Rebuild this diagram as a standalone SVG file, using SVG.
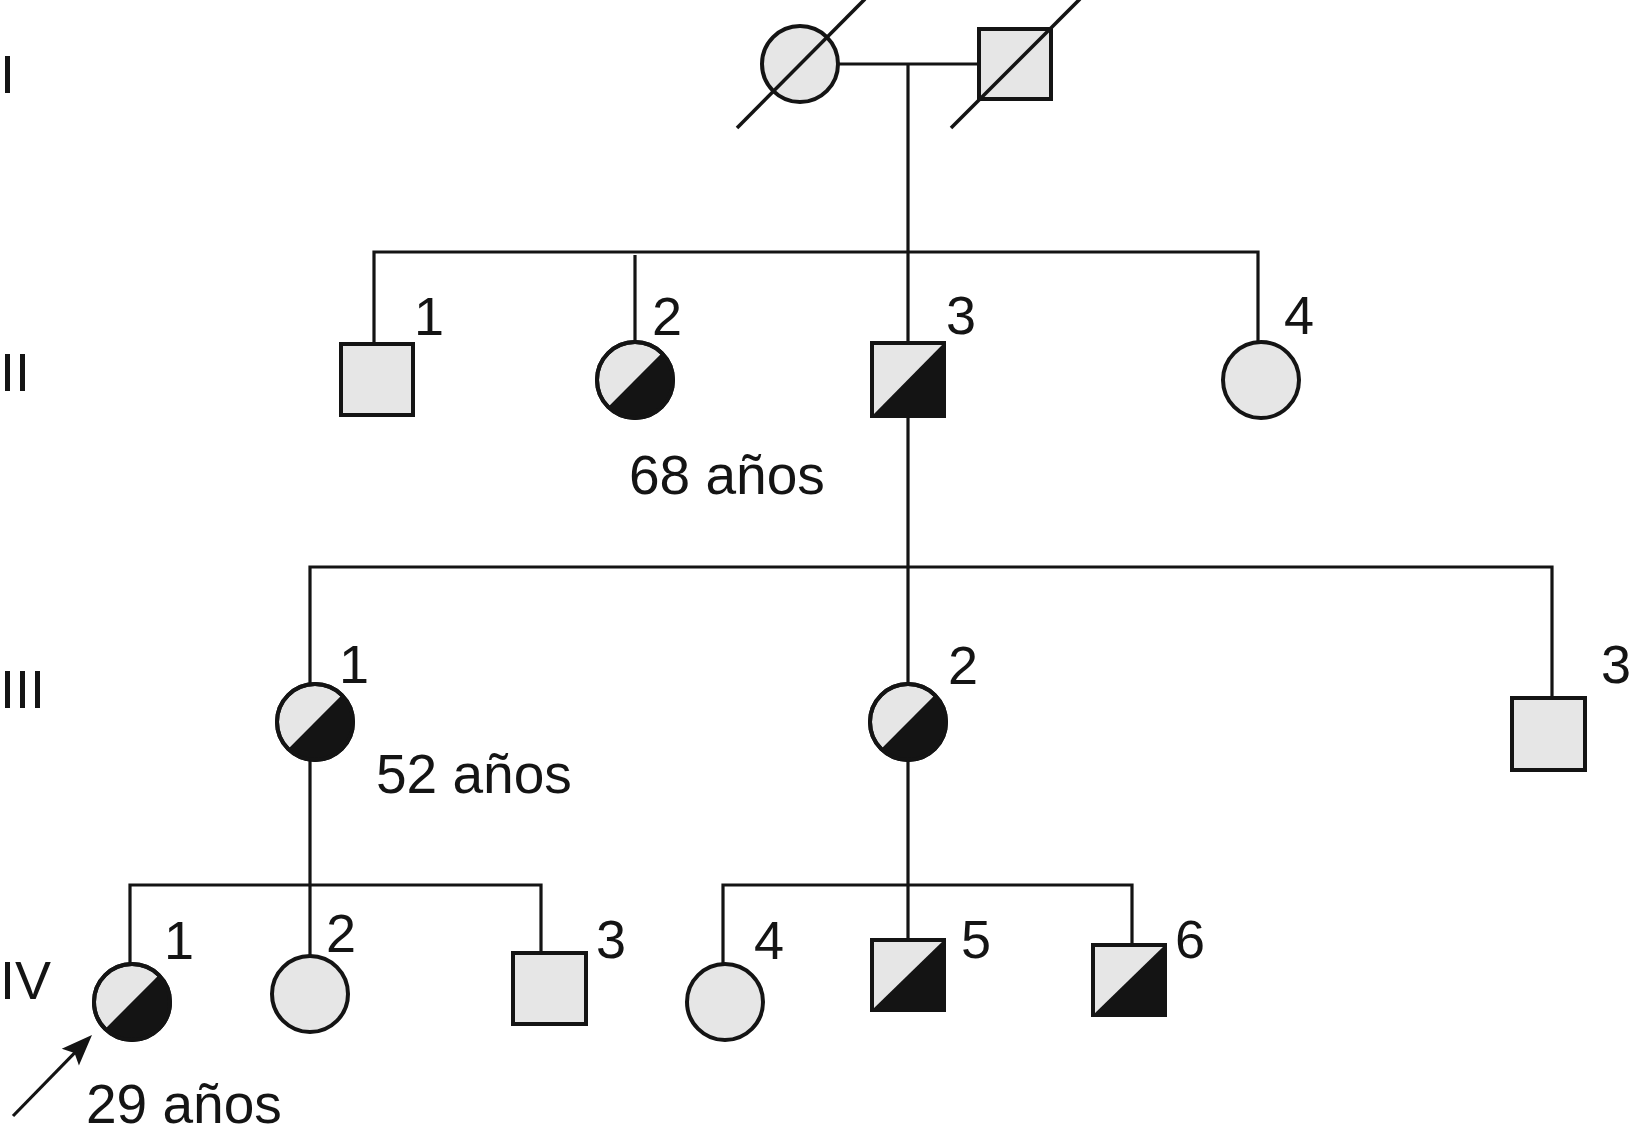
<svg xmlns="http://www.w3.org/2000/svg" width="1632" height="1142" viewBox="0 0 1632 1142">
<style>
  .bg{fill:#ffffff}
  .ln{fill:none;stroke:#141414;stroke-width:3.2;stroke-linejoin:miter;stroke-linecap:butt}
  .sh{fill:#e6e6e6;stroke:#141414;stroke-width:4}
  .blk{fill:#141414;stroke:none}
  .out{fill:none;stroke:#141414;stroke-width:4}
  .sl{stroke:#141414;stroke-width:3.6;fill:none}
  .t{font-family:"Liberation Sans",Arial,sans-serif;font-size:54px;fill:#141414}
  .age{font-size:55px}
</style>
<defs>
  <marker id="arr" markerUnits="userSpaceOnUse" viewBox="-27 -13 34 26" refX="0" refY="0" markerWidth="34" markerHeight="26" orient="auto">
    <path d="M6,0 L-25,-12 L-19,0 L-25,12 Z" fill="#141414"/>
  </marker>
</defs>
<rect class="bg" x="0" y="0" width="1632" height="1142"/>

<g id="generation-labels">
  <text class="t" x="0" y="93">I</text>
  <text class="t" x="0" y="391">II</text>
  <text class="t" x="0" y="708">III</text>
  <text class="t" x="0" y="999">IV</text>
</g>

<g id="connectors">
  <line class="ln" x1="838" y1="64" x2="979" y2="64"/>
  <line class="ln" x1="908" y1="64" x2="908" y2="343"/>
  <polyline class="ln" points="374,344 374,252 1258,252 1258,342"/>
  <line class="ln" x1="635" y1="255" x2="635" y2="342"/>
  <line class="ln" x1="908" y1="416" x2="908" y2="684"/>
  <polyline class="ln" points="310,684 310,567 1552,567 1552,698"/>
  <line class="ln" x1="310" y1="761" x2="310" y2="956"/>
  <polyline class="ln" points="130,964 130,885 541,885 541,953"/>
  <line class="ln" x1="908" y1="761" x2="908" y2="940"/>
  <polyline class="ln" points="723,964 723,885 1132,885 1132,945"/>
  <line class="ln" x1="13" y1="1116" x2="87.8" y2="1039.3" marker-end="url(#arr)"/>
</g>

<g id="I-1">
  <circle class="sh" cx="800" cy="64" r="38"/>
  <line class="sl" x1="737" y1="128" x2="865" y2="-1"/>
</g>
<g id="I-2">
  <rect class="sh" x="979" y="29" width="72" height="70"/>
  <line class="sl" x1="951" y1="128" x2="1080" y2="-1"/>
</g>

<g id="II-1">
  <rect class="sh" x="341" y="344" width="72" height="71"/>
  <text class="t" x="414" y="335">1</text>
</g>
<g id="II-2">
  <circle class="sh" cx="635" cy="380" r="38"/>
  <path class="blk" d="M661.9,353.1 A38,38 0 0 1 608.1,406.9 Z"/>
  <circle class="out" cx="635" cy="380" r="38"/>
  <text class="t" x="652" y="335">2</text>
  <text class="t age" x="629" y="494">68 años</text>
</g>
<g id="II-3">
  <rect class="sh" x="872" y="343" width="72" height="73"/>
  <path class="blk" d="M944,343 L944,416 L872,416 Z"/>
  <rect class="out" x="872" y="343" width="72" height="73"/>
  <text class="t" x="946" y="334">3</text>
</g>
<g id="II-4">
  <circle class="sh" cx="1261" cy="380" r="38"/>
  <text class="t" x="1284" y="334">4</text>
</g>

<g id="III-1">
  <circle class="sh" cx="315" cy="722" r="38"/>
  <path class="blk" d="M341.9,695.1 A38,38 0 0 1 288.1,748.9 Z"/>
  <circle class="out" cx="315" cy="722" r="38"/>
  <text class="t" x="339" y="683">1</text>
  <text class="t age" x="376" y="793">52 años</text>
</g>
<g id="III-2">
  <circle class="sh" cx="908" cy="722" r="38"/>
  <path class="blk" d="M934.9,695.1 A38,38 0 0 1 881.1,748.9 Z"/>
  <circle class="out" cx="908" cy="722" r="38"/>
  <text class="t" x="948" y="684">2</text>
</g>
<g id="III-3">
  <rect class="sh" x="1512" y="698" width="73" height="72"/>
  <text class="t" x="1601" y="683">3</text>
</g>

<g id="IV-1">
  <circle class="sh" cx="132" cy="1002" r="38"/>
  <path class="blk" d="M158.9,975.1 A38,38 0 0 1 105.1,1028.9 Z"/>
  <circle class="out" cx="132" cy="1002" r="38"/>
  <text class="t" x="164" y="959">1</text>
  <text class="t age" x="86" y="1123">29 años</text>
</g>
<g id="IV-2">
  <circle class="sh" cx="310" cy="994" r="38"/>
  <text class="t" x="326" y="952">2</text>
</g>
<g id="IV-3">
  <rect class="sh" x="513" y="953" width="73" height="71"/>
  <text class="t" x="596" y="958">3</text>
</g>
<g id="IV-4">
  <circle class="sh" cx="725" cy="1002" r="38"/>
  <text class="t" x="754" y="959">4</text>
</g>
<g id="IV-5">
  <rect class="sh" x="872" y="940" width="72" height="70"/>
  <path class="blk" d="M944,940 L944,1010 L872,1010 Z"/>
  <rect class="out" x="872" y="940" width="72" height="70"/>
  <text class="t" x="961" y="958">5</text>
</g>
<g id="IV-6">
  <rect class="sh" x="1093" y="945" width="72" height="70"/>
  <path class="blk" d="M1165,945 L1165,1015 L1093,1015 Z"/>
  <rect class="out" x="1093" y="945" width="72" height="70"/>
  <text class="t" x="1175" y="958">6</text>
</g>
</svg>
